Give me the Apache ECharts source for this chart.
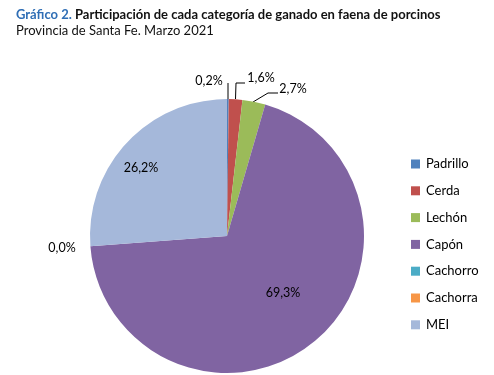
<!DOCTYPE html>
<html>
<head>
<meta charset="utf-8">
<script src="https://cdn.jsdelivr.net/npm/echarts@6/dist/echarts.min.js"></script>
<style>
  html, body { margin: 0; padding: 0; background: #fff; }
  #chart { width: 494px; height: 375px; }
</style>
</head>
<body>
<div id="chart"></div>
<script>
const categories = ['Padrillo', 'Cerda', 'Lechón', 'Capón', 'Cachorro', 'Cachorra', 'MEI'];
const shares = [0.2, 1.6, 2.7, 69.3, 0.0, 0.0, 26.2];
const colors = ['#4F81BD', '#C0504D', '#9BBB59', '#8064A2', '#4BACC6', '#F79646', '#A5B8DA'];

const CX = 227, CY = 236, R = 137;

// where each label sits, as offsets from the pie centre
const labelSpots = {
  Padrillo: {x: -18, y: -155, line: [[1, -137], [1, -153], [1, -153]]},
  Cerda: {x: 34, y: -158, line: [[8.5, -137], [9, -153], [18, -153]]},
  'Lechón': {x: 66, y: -147, line: [[26, -134], [41, -143], [51, -143]]},
  Cachorro: {x: -165, y: 12},
  MEI: {x: -86, y: -68},
  'Capón': {x: 56, y: 57}
};

function fmt(v){
  return v.toFixed(1).replace('.', ',') + '%';
}

const chart = echarts.init(document.getElementById('chart'));

chart.setOption({
  animation: false,
  color: colors,
  title: {
    left: 16,
    top: 8,
    padding: 0,
    itemGap: 3,
    text: '{a|Gráfico 2.}{b| Participación de cada categoría de ganado en faena de porcinos}',
    textStyle: {
      rich: {
        a: {fontFamily: 'Lato', fontSize: 13, fontWeight: 'bold', color: '#2F6EB5'},
        b: {fontFamily: 'Lato', fontSize: 13, fontWeight: 'bold', color: '#111'}
      }
    },
    subtext: 'Provincia de Santa Fe. Marzo 2021',
    subtextStyle: {fontFamily: 'Lato', fontSize: 13, color: '#111'}
  },
  legend: {
    orient: 'vertical',
    left: 406,
    top: 151,
    itemWidth: 9,
    itemHeight: 9,
    itemGap: 10.8,
    icon: 'rect',
    data: categories,
    selectedMode: false,
    textStyle: {fontFamily: 'Lato', fontSize: 13, lineHeight: 16, color: '#000', padding: [0, 0, 0, 1]}
  },
  series: [{
    type: 'pie',
    center: [CX, CY],
    radius: R,
    startAngle: 90,
    clockwise: true,
    stillShowZeroSum: true,
    itemStyle: {borderWidth: 0},
    emphasis: {disabled: true},
    label: {
      show: true,
      position: 'outside',
      fontFamily: 'Lato',
      fontSize: 12.5,
      color: '#000',
      formatter: p => fmt(p.value)
    },
    labelLine: {show: true, lineStyle: {color: '#000', width: 1}},
    labelLayout: function(params){
      const name = categories[params.dataIndex];
      const spot = labelSpots[name];
      if(!spot){
        return {x: -1000, y: -1000};
      }
      const out = {
        x: CX + spot.x,
        y: CY + spot.y,
        align: 'center',
        verticalAlign: 'middle',
        hideOverlap: false,
        moveOverlap: false
      };
      if(spot.line){
        out.labelLinePoints = spot.line.map(p => [CX + p[0], CY + p[1]]);
      }
      return out;
    },
    data: categories.map((name, i) => {
      const item = {name: name, value: shares[i]};
      if(!labelSpots[name] || !labelSpots[name].line){
        item.labelLine = {show: false};
      }
      if(!labelSpots[name]){
        item.label = {show: false};
      }
      return item;
    })
  }]
});
</script>
</body>
</html>
